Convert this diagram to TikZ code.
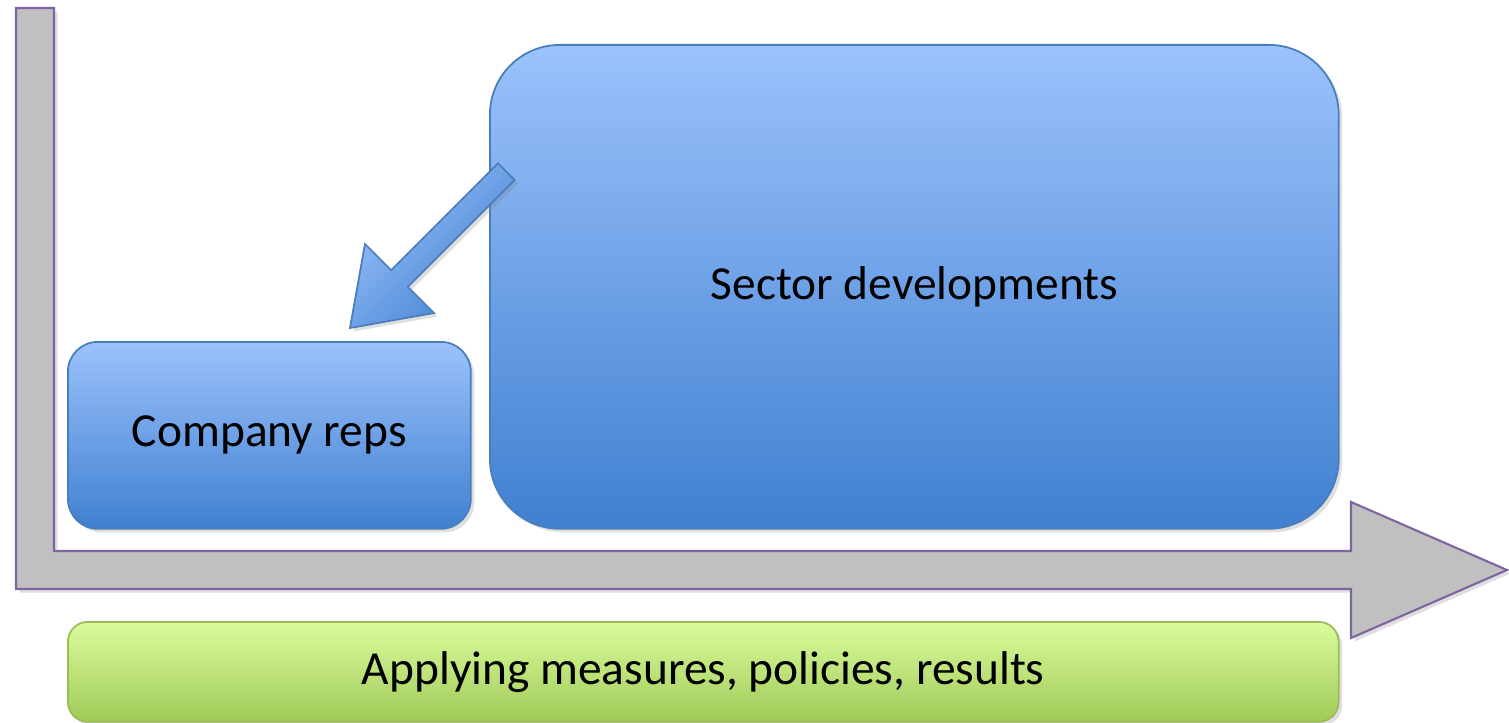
\documentclass[tikz,border=0pt]{standalone}
\usepackage{fontspec}
\setmainfont{Carlito}
\usepackage{tikz}
\usetikzlibrary{shadows}

\definecolor{blueTop}{RGB}{155,194,252}
\definecolor{blueBot}{RGB}{64,128,208}
\definecolor{blueLine}{RGB}{74,126,187}
\definecolor{greenTop}{RGB}{218,252,156}
\definecolor{greenBot}{RGB}{160,202,88}
\definecolor{greenLine}{RGB}{155,187,89}
\definecolor{axisFill}{RGB}{192,192,192}
\definecolor{axisLine}{RGB}{128,100,162}

\begin{document}
\begin{tikzpicture}[x=0.02cm,y=-0.02cm]
	\tikzset{shade box/.style={draw=blueLine,line width=1pt,top color=blueTop,bottom color=blueBot,anchor=north west,align=center,font=\fontsize{27}{32}\selectfont,drop shadow={opacity=0.25,shadow xshift=2pt,shadow yshift=-2pt}}}
	\tikzset{green box/.style={shade box,draw=greenLine,top color=greenTop,bottom color=greenBot}}
	\useasboundingbox (0,0) rectangle (1509,723);
	% axis arrow
	\draw[fill=axisFill,draw=axisLine,line width=1.2pt,drop shadow={opacity=0.25,shadow xshift=2pt,shadow yshift=-2pt}]
		(16,8) -- (54,8) -- (54,551) -- (1351,551) -- (1351,502) -- (1507,570) -- (1351,638) -- (1351,589) -- (16,589) -- cycle;
	\node[shade box,rounded corners=0.6cm,minimum width=8.06cm,minimum height=3.74cm] (reps) at (67,341) {Company reps};
	\node[shade box,rounded corners=1.4cm,minimum width=16.98cm,minimum height=9.68cm] (sector) at (489,44) {Sector developments};
	\node[green box,rounded corners=0.4cm,minimum width=25.42cm,minimum height=2.0cm] (apply) at (67,621) {Applying measures, policies, results};
	% block arrow from sector to reps
	\begin{scope}[shift={(350,328)},rotate=45]
		\draw[draw=blueLine,line width=1pt,top color=blueTop,bottom color=blueBot,shading angle=45,drop shadow={opacity=0.25,shadow xshift=2pt,shadow yshift=-2pt}]
			(0,0) -- (70,48.8) -- (70,11.7) -- (221,11.7) -- (221,-11.7) -- (70,-11.7) -- (70,-48.8) -- cycle;
	\end{scope}
\end{tikzpicture}
\end{document}
